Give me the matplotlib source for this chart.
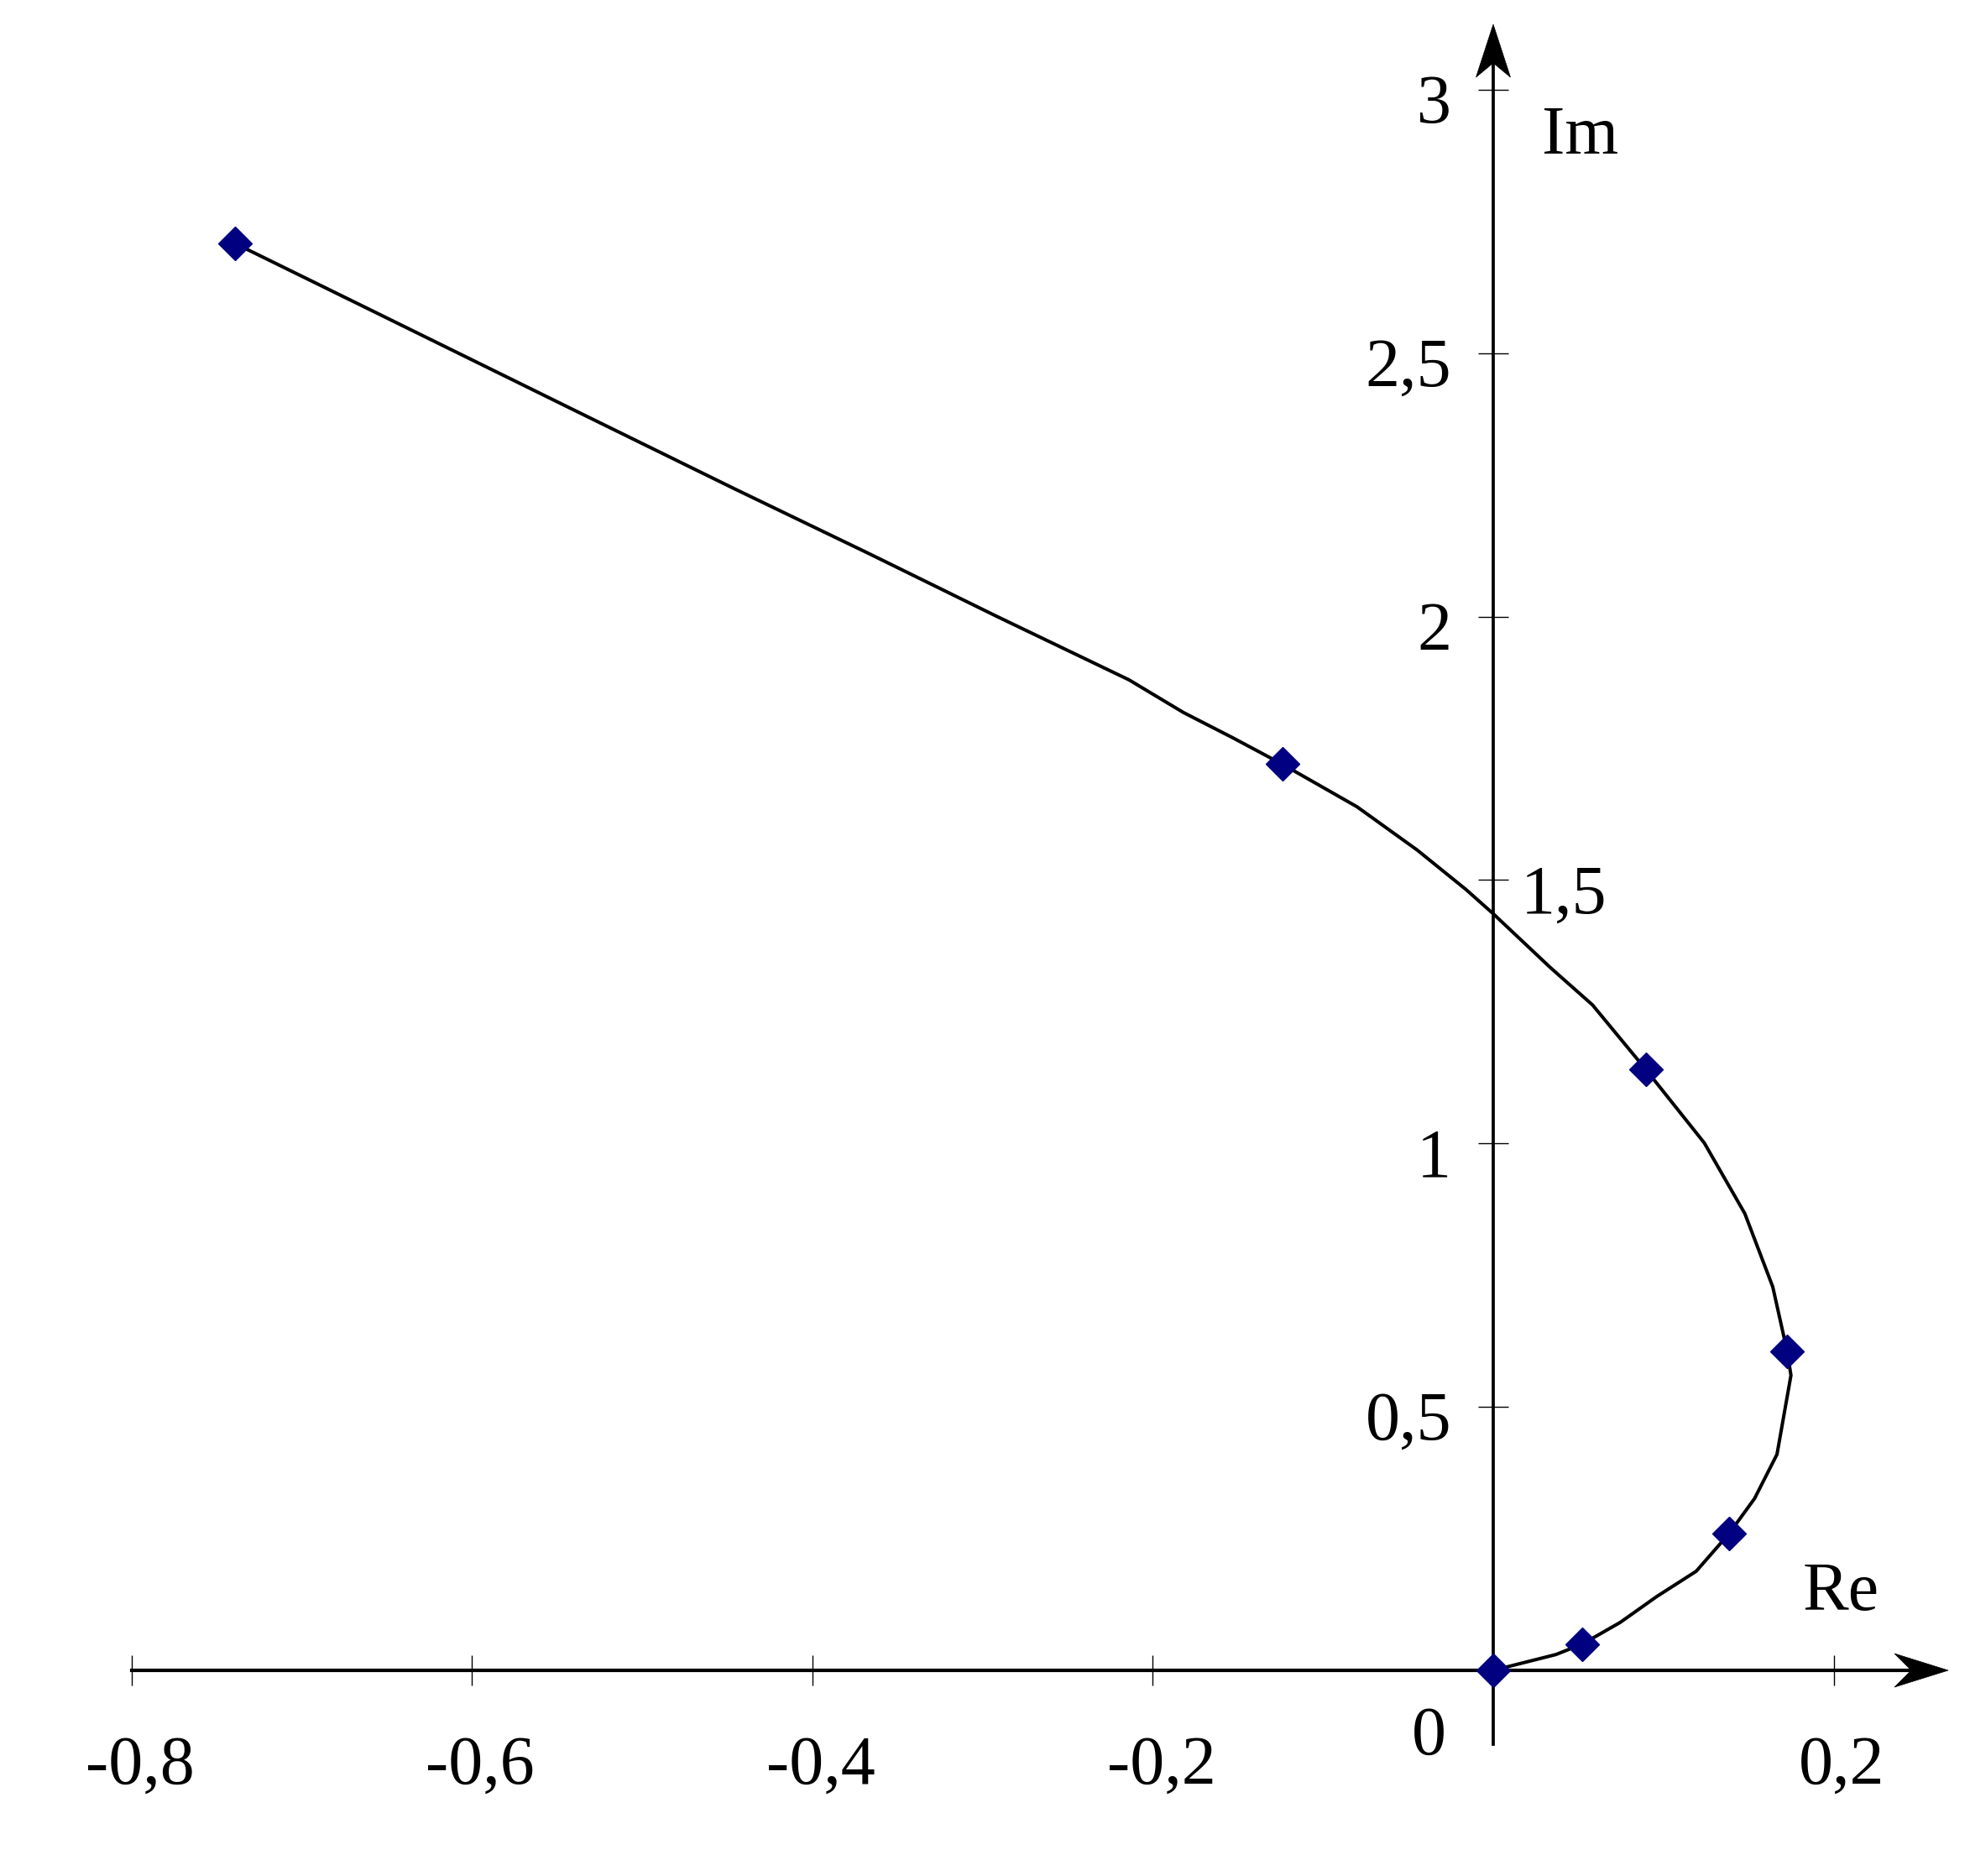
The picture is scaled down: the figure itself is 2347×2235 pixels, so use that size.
import matplotlib
matplotlib.use("Agg")
import matplotlib.pyplot as plt
from matplotlib.patches import Polygon

# ---- data ----
curve_re = [0.0, 0.0368, 0.0524, 0.0746, 0.0960, 0.1192, 0.1384, 0.1535, 0.1667,
            0.1749, 0.1727, 0.1642, 0.1478, 0.1240, 0.0895, 0.0583, 0.0335,
            0.0, -0.016, -0.0447, -0.080, -0.124, -0.153, -0.182, -0.214,
            -0.292, -0.367, -0.446, -0.540, -0.657, -0.739]
curve_im = [0.0, 0.030, 0.050, 0.091, 0.140, 0.188, 0.259, 0.326, 0.410,
            0.560, 0.605, 0.728, 0.867, 1.001, 1.141, 1.263, 1.334,
            1.436, 1.482, 1.557, 1.639, 1.720, 1.770, 1.818, 1.880,
            2.001, 2.120, 2.243, 2.392, 2.578, 2.708]

marker_re = [0.0, 0.0524, 0.1384, 0.1727, 0.0895, -0.124, -0.739]
marker_im = [0.0, 0.050, 0.259, 0.605, 1.141, 1.720, 2.708]

xtick_vals = [-0.8, -0.6, -0.4, -0.2, 0.2]
xtick_labels = ["-0,8", "-0,6", "-0,4", "-0,2", "0,2"]
ytick_vals_left = [3.0, 2.5, 2.0, 1.0, 0.5]
ytick_labels_left = ["3", "2,5", "2", "1", "0,5"]
ytick_vals_right = [1.5]
ytick_labels_right = ["1,5"]

# ---- layout ----
W, H, DPI = 2347, 2235, 100
X0_PX, Y0_PX = 1779.0, 1990.0     # pixel position of origin (from top-left)
PX_PER_X, PX_PER_Y = 2028.0, 627.7

def dx(px):
    return px / PX_PER_X

def dy(px):
    return px / PX_PER_Y

xmin = -X0_PX / PX_PER_X
xmax = (W - X0_PX) / PX_PER_X
ymin = -(H - Y0_PX) / PX_PER_Y
ymax = Y0_PX / PX_PER_Y

plt.rcParams['font.family'] = ['Liberation Serif', 'DejaVu Serif']
FS = 59

fig = plt.figure(figsize=(W / DPI, H / DPI), dpi=DPI)
fig.patch.set_facecolor("white")
ax = fig.add_axes([0, 0, 1, 1])
ax.set_xlim(xmin, xmax)
ax.set_ylim(ymin, ymax)
ax.set_facecolor("white")

# axes as spines through the origin
for s in ("top", "right"):
    ax.spines[s].set_visible(False)
ax.spines["left"].set_position(("data", 0))
ax.spines["bottom"].set_position(("data", 0))
ax.spines["left"].set_linewidth(2.7)
ax.spines["bottom"].set_linewidth(3.0)
x_tip = dx(2321 - X0_PX)
y_tip = dy(Y0_PX - 29)
ax.spines["bottom"].set_bounds(-0.8, dx(2277 - X0_PX))
ax.spines["left"].set_bounds(-dy(2078 - Y0_PX), dy(Y0_PX - 75))

ax.set_xticks(xtick_vals)
ax.set_yticks(ytick_vals_left + ytick_vals_right)
ax.tick_params(axis="both", direction="inout", length=26, width=1.0,
               labelbottom=False, labelleft=False, color="black")

# arrowheads
hw_x = dy(20)
xa = Polygon([(x_tip, 0), (dx(2257 - X0_PX), hw_x), (dx(2277 - X0_PX), 0),
              (dx(2257 - X0_PX), -hw_x)], closed=True, facecolor="black",
             edgecolor="black", lw=0.5, zorder=4)
hw_y = dx(20.5)
ya = Polygon([(0, y_tip), (hw_y, dy(Y0_PX - 92)), (0, dy(Y0_PX - 75)),
              (-hw_y, dy(Y0_PX - 92))], closed=True, facecolor="black",
             edgecolor="black", lw=0.5, zorder=4)
ax.add_patch(xa)
ax.add_patch(ya)

# curve and markers
ax.plot(curve_re, curve_im, color="black", lw=2.9, zorder=3,
        solid_joinstyle="round", clip_on=False)
ax.plot(marker_re, marker_im, linestyle="none", marker="D", markersize=20.5,
        markerfacecolor="#000080", markeredgecolor="#000080", markeredgewidth=1,
        zorder=5, clip_on=False)

# tick labels
for v, lab in zip(xtick_vals, xtick_labels):
    ax.text(v + dx(10), -dy(2125 - Y0_PX), lab, ha="center", va="baseline",
            fontsize=FS, color="black")
for v, lab in zip(ytick_vals_left, ytick_labels_left):
    ax.text(-dx(50), v - dy(39), lab, ha="right", va="baseline",
            fontsize=FS, color="black")
for v, lab in zip(ytick_vals_right, ytick_labels_right):
    ax.text(dx(1812 - X0_PX), v - dy(39), lab, ha="left", va="baseline",
            fontsize=FS, color="black")
ax.text(-dx(X0_PX - 1723), -dy(2090 - Y0_PX), "0", ha="right", va="baseline",
        fontsize=FS, color="black")

# axis names
ax.text(dx(1837 - X0_PX), dy(Y0_PX - 183), "Im", ha="left", va="baseline",
        fontsize=FS, color="black")
ax.text(dx(2148 - X0_PX), dy(Y0_PX - 1918), "Re", ha="left", va="baseline",
        fontsize=FS, color="black")

fig.savefig("out.png", dpi=DPI, facecolor="white")
